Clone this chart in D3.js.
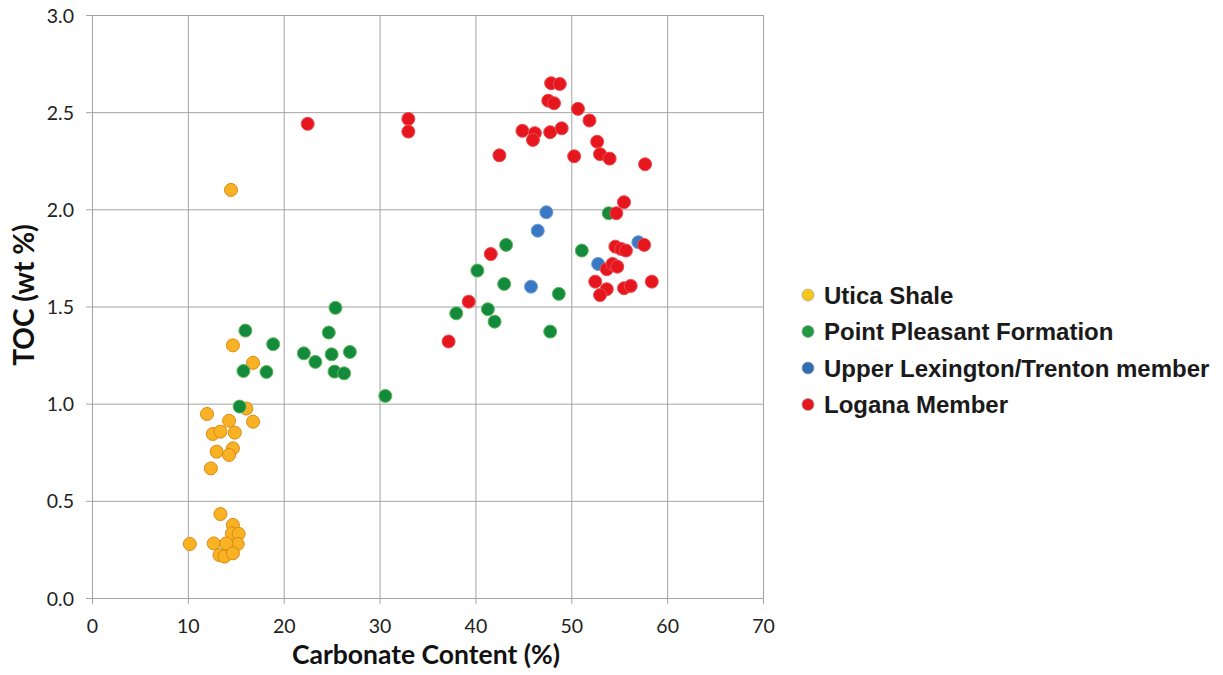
<!DOCTYPE html>
<html>
<head>
<meta charset="utf-8">
<script src="https://cdn.jsdelivr.net/npm/d3@7"></script>
<style>
  html, body { margin: 0; padding: 0; background: #fff; }
  svg { display: block; }
</style>
</head>
<body>
<svg id="chart" width="1223" height="675"></svg>
<script>
// Carbonate content (%) and TOC (wt %) for each unit
const uticaX = [14.5, 14.7, 16.8, 16.1, 12.0, 14.3, 16.8, 12.6, 13.4, 14.9, 13.0, 14.7, 14.3, 12.4, 13.4, 10.2, 12.7, 14.7, 14.6, 15.3, 15.2, 14.0, 13.3, 13.8, 14.7];
const uticaY = [2.10, 1.30, 1.21, 0.975, 0.947, 0.912, 0.907, 0.844, 0.856, 0.851, 0.753, 0.770, 0.736, 0.667, 0.432, 0.278, 0.281, 0.376, 0.333, 0.330, 0.278, 0.281, 0.221, 0.213, 0.230];

const pleasantX = [16.0, 18.9, 15.8, 18.2, 15.4, 25.4, 24.7, 22.1, 23.3, 25.0, 26.9, 25.3, 26.3, 30.6, 53.9, 43.2, 51.1, 40.2, 43.0, 48.7, 38.0, 41.3, 42.0, 47.8];
const pleasantY = [1.376, 1.306, 1.168, 1.163, 0.985, 1.493, 1.366, 1.259, 1.215, 1.254, 1.266, 1.165, 1.156, 1.040, 1.980, 1.817, 1.788, 1.685, 1.616, 1.565, 1.465, 1.486, 1.422, 1.371];

const lexingtonX = [47.4, 46.5, 57.0, 52.8, 45.8];
const lexingtonY = [1.985, 1.890, 1.831, 1.719, 1.602];

const loganaX = [22.5, 33.0, 33.0, 47.9, 48.8, 47.6, 48.2, 50.7, 51.9, 44.9, 46.2, 46.0, 47.8, 49.0, 52.7, 42.5, 50.3, 53.0, 54.0, 57.7, 55.5, 54.7, 41.6, 57.6, 54.6, 55.2, 55.7, 53.7, 54.3, 54.8, 52.5, 53.7, 53.0, 55.5, 56.2, 58.4, 39.3, 37.2];
const loganaY = [2.44, 2.465, 2.40, 2.649, 2.645, 2.559, 2.546, 2.517, 2.457, 2.404, 2.392, 2.357, 2.397, 2.417, 2.348, 2.278, 2.273, 2.284, 2.261, 2.232, 2.037, 1.980, 1.770, 1.817, 1.808, 1.796, 1.788, 1.692, 1.719, 1.705, 1.628, 1.589, 1.559, 1.594, 1.606, 1.628, 1.525, 1.320];

const seriesNames = ["Utica Shale", "Point Pleasant Formation", "Upper Lexington/Trenton member", "Logana Member"];
const xTicks = [0, 10, 20, 30, 40, 50, 60, 70];
const yTicks = [0, 0.5, 1.0, 1.5, 2.0, 2.5, 3.0];

const series = [
  { name: seriesNames[0], xs: uticaX, ys: uticaY, fill: "#F9B224", stroke: "#DB8A12", legendFill: "#F5C518" },
  { name: seriesNames[1], xs: pleasantX, ys: pleasantY, fill: "#138A3C", stroke: "#5FB85A", legendFill: "#1E9A44" },
  { name: seriesNames[2], xs: lexingtonX, ys: lexingtonY, fill: "#3B78C3", stroke: "#6E9DD6", legendFill: "#2F6DB8" },
  { name: seriesNames[3], xs: loganaX, ys: loganaY, fill: "#E5161E", stroke: "#EE4A4F", legendFill: "#E5161E" }
];

const svg = d3.select("#chart");
const x = d3.scaleLinear().domain([0, 70]).range([92, 763]);
const y = d3.scaleLinear().domain([0, 3]).range([598, 15]);

const gridColor = "#a3a3a3";
const tickFont = "Lato, 'Open Sans', sans-serif";

// grid, with the outer tick stubs on the left and bottom
const grid = svg.append("g");
grid.selectAll("line.v").data(xTicks).join("line")
  .attr("x1", d => x(d) + 0.5).attr("x2", d => x(d) + 0.5)
  .attr("y1", y(3)).attr("y2", y(0) + 6)
  .attr("stroke", gridColor).attr("stroke-width", 1);
grid.selectAll("line.h").data(yTicks).join("line")
  .attr("x1", x(0) - 6).attr("x2", x(70))
  .attr("y1", d => y(d) + 0.5).attr("y2", d => y(d) + 0.5)
  .attr("stroke", gridColor).attr("stroke-width", 1);

// tick labels
const xAxis = d3.axisBottom(x).tickValues(xTicks).tickFormat(d3.format("d")).tickSize(0).tickPadding(0);
const gx = svg.append("g").attr("transform", `translate(0,${y(0)})`).call(xAxis);
gx.select(".domain").remove();
gx.selectAll("text").attr("dy", 0).attr("y", 35)
  .style("font-family", tickFont).style("font-size", "19.5px").attr("fill", "#222");

const yAxis = d3.axisLeft(y).tickValues(yTicks).tickFormat(d3.format(".1f")).tickSize(0).tickPadding(0);
const gy = svg.append("g").attr("transform", `translate(${x(0)},0)`).call(yAxis);
gy.select(".domain").remove();
gy.selectAll("text").attr("x", -18).attr("dy", "0.36em")
  .style("font-family", tickFont).style("font-size", "19.5px").attr("fill", "#222");

// axis titles
svg.append("text")
  .attr("x", 426).attr("y", 664)
  .attr("text-anchor", "middle")
  .style("font-family", tickFont).style("font-weight", "bold").style("font-size", "26.5px")
  .attr("fill", "#111")
  .text("Carbonate Content (%)");

svg.append("text")
  .attr("transform", "translate(34,295) rotate(-90)")
  .attr("text-anchor", "middle")
  .style("font-family", tickFont).style("font-weight", "bold").style("font-size", "28px")
  .attr("fill", "#111")
  .text("TOC (wt %)");

// points
series.forEach(s => {
  const pts = s.xs.map((v, i) => [v, s.ys[i]]);
  svg.append("g").selectAll("circle").data(pts).join("circle")
    .attr("cx", d => x(d[0])).attr("cy", d => y(d[1]))
    .attr("r", 6.5)
    .attr("fill", s.fill)
    .attr("stroke", s.stroke).attr("stroke-width", 1);
});

// legend
const legend = svg.append("g");
const legendRows = legend.selectAll("g").data(series).join("g")
  .attr("transform", (d, i) => `translate(808,${295 + i * 36.5})`);
legendRows.append("circle").attr("r", 6)
  .attr("fill", d => d.legendFill).attr("stroke", "#999").attr("stroke-width", 0.6);
legendRows.append("text")
  .attr("x", 16).attr("dy", "0.36em")
  .style("font-family", "'Liberation Sans', Arial, sans-serif")
  .style("font-weight", "bold").style("font-size", "24px")
  .attr("fill", "#1a1a1a")
  .text(d => d.name);
</script>
</body>
</html>
